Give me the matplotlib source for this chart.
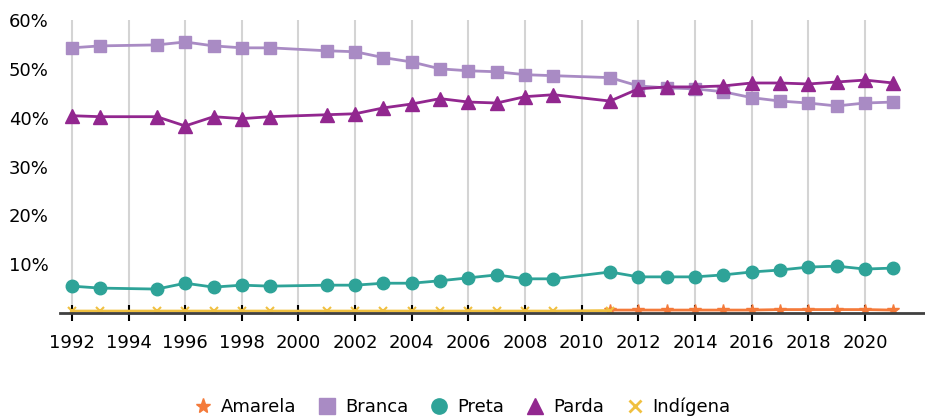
import matplotlib.pyplot as plt
from matplotlib.lines import Line2D
import numpy as np

# PNAD years (no 1994, 2000, 2010)
years = [1992, 1993, 1995, 1996, 1997, 1998, 1999, 2001, 2002, 2003, 2004,
         2005, 2006, 2007, 2008, 2009, 2011, 2012, 2013, 2014, 2015, 2016,
         2017, 2018, 2019, 2020, 2021]

branca = [54.3, 54.7, 54.9, 55.5, 54.7, 54.3, 54.3, 53.7, 53.5, 52.3, 51.4,
          50.0, 49.6, 49.4, 48.8, 48.6, 48.2, 46.5, 46.1, 45.9, 45.3, 44.1,
          43.4, 43.0, 42.4, 43.0, 43.2]
parda = [40.4, 40.2, 40.2, 38.3, 40.2, 39.8, 40.2, 40.6, 40.8, 42.0, 42.8,
         43.9, 43.2, 43.0, 44.3, 44.7, 43.4, 45.9, 46.3, 46.3, 46.5, 47.1,
         47.1, 46.9, 47.3, 47.7, 47.1]
preta = [5.5, 5.1, 4.9, 6.1, 5.3, 5.7, 5.5, 5.7, 5.7, 6.1, 6.1,
         6.6, 7.2, 7.8, 7.0, 7.0, 8.4, 7.4, 7.4, 7.4, 7.8, 8.4,
         8.8, 9.4, 9.6, 9.0, 9.2]

indigena_years = years[:17]
indigena = [0.4, 0.4, 0.4, 0.4, 0.4, 0.4, 0.4, 0.4, 0.4, 0.4, 0.4,
            0.4, 0.4, 0.4, 0.4, 0.4, 0.5]
amarela_years = years[16:]
amarela = [0.6, 0.6, 0.6, 0.6, 0.6, 0.6, 0.7, 0.7, 0.7, 0.7, 0.6]

names = ['Amarela', 'Branca', 'Preta', 'Parda', 'Indígena']
colors = ['#f47a3a', '#a98bc4', '#2ea398', '#92278f', '#f0c040']
markers = ['*', 's', 'o', '^', 'x']
sizes = [9, 8.5, 9, 9.5, 6]

#==============================================================================
fig = plt.figure(figsize=(9.25, 4.18), dpi=100)
ax = fig.add_axes([60/925, 105/418, 865/925, 293/418])

data = [(amarela_years, amarela), (years, branca), (years, preta),
        (years, parda), (indigena_years, indigena)]
for (xs, ys), c, m, s, n in zip(data, colors, markers, sizes, names):
    ax.plot(xs, ys, color=c, lw=2, marker=m, ms=s, mew=1.5 if m == 'x' else 1,
            label=n)

ax.set_xlim(1991.58, 2022.12)
ax.set_ylim(0, 60)
ax.set_xticks(range(1992, 2021, 2))
ax.set_yticks(range(10, 61, 10))
ax.set_yticklabels([f'{v}%' for v in range(10, 61, 10)])

ax.grid(axis='x', color='#d4d4d4', lw=1.5)
ax.set_axisbelow(True)
for s in ['top', 'right', 'left']:
    ax.spines[s].set_visible(False)
ax.spines['bottom'].set_color('#404040')
ax.spines['bottom'].set_linewidth(2)

ax.tick_params(axis='x', direction='inout', length=12, width=1.5,
               color='black', labelsize=13, pad=9)
ax.tick_params(axis='y', length=0, labelsize=13, pad=8)

handles = [Line2D([], [], ls='none', color=c, marker=m,
                  ms=11 if m != 'x' else 8, mew=2 if m == 'x' else 1)
           for c, m in zip(colors, markers)]
fig.legend(handles, names, loc='lower center', bbox_to_anchor=(0.5, -0.035),
           ncol=5, frameon=False, fontsize=13, handlelength=1.0,
           columnspacing=1.2, handletextpad=0.5)

fig.savefig('out.png', dpi=100)
